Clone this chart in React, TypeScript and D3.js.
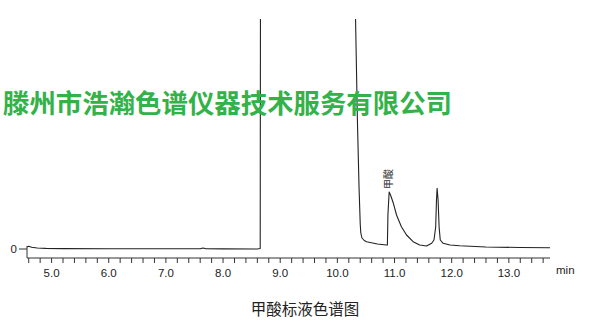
import React from "react";
import * as d3 from "d3";

const time = [4.57, 4.6, 4.65, 4.75, 4.9, 5.2, 6.0, 7.0, 7.6, 7.65, 7.7, 8.0, 8.6, 8.65, 8.657, 10.3, 10.318, 10.35, 10.38, 10.4, 10.41, 10.43, 10.47, 10.51, 10.7, 10.86, 10.875, 10.885, 10.906, 10.93, 10.98, 11.035, 11.12, 11.21, 11.325, 11.44, 11.56, 11.65, 11.69, 11.72, 11.734, 11.745, 11.762, 11.78, 11.8, 11.85, 11.97, 12.14, 12.6, 13.2, 13.72];
const signal = [2, 2.8, 1.8, 1.0, 0.6, 0.4, 0.3, 0.2, 0.2, 1.0, 0.2, 0.1, 0, 0.5, 400, 400, 230, 130, 60, 25, 16, 11, 8.5, 7.3, 5, 4, 4, 35, 57, 54, 45.7, 34, 22.3, 14, 7.3, 4, 3, 5.7, 9, 22, 49, 60.7, 49, 22, 9, 5.7, 4, 3.3, 2, 1.5, 1.3];
const majorTicks = [5, 6, 7, 8, 9, 10, 11, 12, 13];
const peakLabel = "甲酸";
const peakTime = 10.93;
const peakSignal = 57;
const company = "滕州市浩瀚色谱仪器技术服务有限公司";
const caption = "甲酸标液色谱图";
const unit = "min";

export default function App() {
  const x = d3.scaleLinear().domain([4.57, 13.72]).range([27, 550]);
  const y = d3.scaleLinear().domain([0, 230]).range([249, 19]);
  const pts: [number, number][] = time.map((t, i) => [t, signal[i]]);
  const line = d3
    .line<[number, number]>()
    .x((d) => x(d[0]))
    .y((d) => y(d[1]));
  const minorTicks = d3.range(4.6, 13.72, 0.2);
  const axisY = 258;

  return (
    <svg
      width={600}
      height={328}
      style={{ position: "absolute", left: 0, top: 0, background: "#fff" }}
    >
      <defs>
        <clipPath id="plot">
          <rect x={0} y={y(230)} width={600} height={260} />
        </clipPath>
      </defs>
      <path
        d={line(pts) || ""}
        fill="none"
        stroke="#222"
        strokeWidth={1.1}
        clipPath="url(#plot)"
        strokeLinejoin="round"
      />
      {/* y axis */}
      <line x1={27} x2={27} y1={246} y2={axisY} stroke="#333" strokeWidth={1} />
      <line x1={19} x2={27} y1={y(0)} y2={y(0)} stroke="#333" strokeWidth={1} />
      <text
        x={17}
        y={y(0)}
        fontFamily="Liberation Sans, Arial, sans-serif"
        fontSize={11.5}
        fill="#222"
        textAnchor="end"
        dominantBaseline="central"
      >
        0
      </text>
      {/* x axis */}
      <line x1={27} x2={550} y1={axisY} y2={axisY} stroke="#333" strokeWidth={1} />
      {minorTicks.map((t, i) => (
        <line
          key={i}
          x1={x(t)}
          x2={x(t)}
          y1={axisY}
          y2={axisY + 5}
          stroke="#333"
          strokeWidth={1}
        />
      ))}
      {majorTicks.map((t) => (
        <text
          key={t}
          x={x(t)}
          y={273}
          fontFamily="Liberation Sans, Arial, sans-serif"
          fontSize={11.5}
          fill="#222"
          textAnchor="middle"
          dominantBaseline="central"
        >
          {d3.format(".1f")(t)}
        </text>
      ))}
      <text
        x={556}
        y={270}
        fontFamily="Liberation Sans, Arial, sans-serif"
        fontSize={11.5}
        fill="#222"
        dominantBaseline="central"
      >
        {unit}
      </text>
      {/* peak label */}
      <text
        transform={`translate(${x(peakTime) - 3},${y(peakSignal) - 13}) rotate(-90)`}
        fontFamily="Noto Sans CJK SC, sans-serif"
        fontSize={10}
        fill="#333"
        textAnchor="middle"
        dominantBaseline="central"
      >
        {peakLabel}
      </text>
      {/* company watermark */}
      <text
        x={3}
        y={101}
        fontFamily="Noto Sans CJK SC, sans-serif"
        fontWeight="bold"
        fontSize={26.4}
        fill="#33b24a"
        dominantBaseline="central"
        textLength={449}
      >
        {company}
      </text>
      {/* caption */}
      <text
        x={305}
        y={308}
        fontFamily="Noto Sans CJK SC, sans-serif"
        fontWeight={400}
        fontSize={15.5}
        fill="#222"
        textAnchor="middle"
        dominantBaseline="central"
      >
        {caption}
      </text>
    </svg>
  );
}
